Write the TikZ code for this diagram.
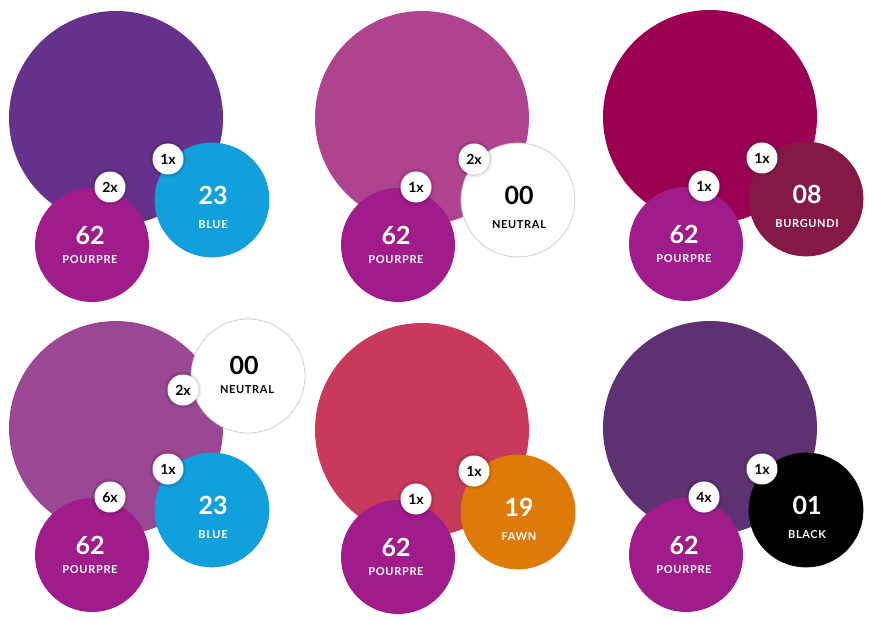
\documentclass[tikz,border=0pt]{standalone}
\usepackage{fontspec}
\setmainfont{Lato}
\definecolor{big1}{RGB}{101,49,139}
\definecolor{big2}{RGB}{176,67,143}
\definecolor{big3}{RGB}{155,0,82}
\definecolor{big4}{RGB}{155,72,148}
\definecolor{big5}{RGB}{200,58,92}
\definecolor{big6}{RGB}{94,50,114}
\definecolor{pourpre}{RGB}{160,28,138}
\definecolor{rblue}{RGB}{18,160,220}
\colorlet{rblueedge}{rblue}
\colorlet{rbluetxt}{white}
\colorlet{rneutral}{white}
\definecolor{rneutraledge}{RGB}{205,205,205}
\colorlet{rneutraltxt}{black}
\definecolor{rburg}{RGB}{133,25,70}
\colorlet{rburgedge}{rburg}
\colorlet{rburgtxt}{white}
\definecolor{rfawn}{RGB}{222,122,10}
\colorlet{rfawnedge}{rfawn}
\colorlet{rfawntxt}{white}
\colorlet{rblack}{black}
\colorlet{rblackedge}{black}
\colorlet{rblacktxt}{white}
\tikzset{
  bigdot/.style={circle, inner sep=0pt, minimum size=214pt},
  dot/.style={circle, inner sep=0pt, minimum size=114pt, line width=0.8pt},
  badge/.style={circle, fill=white, inner sep=0pt, minimum size=31pt,
    font=\fontsize{14}{14}\selectfont\bfseries, text=black},
  num/.style={inner sep=0pt, font=\fontsize{25}{25}\selectfont\bfseries},
  captext/.style={inner sep=0pt, font=\fontsize{11}{12}\selectfont\bfseries\addfontfeatures{LetterSpace=6}},
  shade ring/.style={fill=black, opacity=0.07},
}
\newcommand\shadowat[1]{%
  \fill[shade ring] (#1) circle (18.5);
  \fill[shade ring] (#1) circle (17);}
% #1 id, #2 centre, #3 big colour, #4 pourpre badge, #5 right colour key,
% #6 number, #7 label, #8 right badge
\newcommand\cpanel[8]{%
  \begin{scope}[shift={(#2)}]
    \node[bigdot, fill=#3] (#1big) at (0,0) {};
    \node[dot, fill=pourpre] (#1p) at (-24,127) {};
    \node[num, text=white] (#1pn) at (-26,117) {62};
    \node[captext, text=white] (#1pc) at (-26,142) {POURPRE};
    \node[dot, fill=#5, draw=#5edge] (#1r) at (96,82) {};
    \node[num, text=#5txt] (#1rn) at (97,77) {#6};
    \node[captext, text=#5txt] (#1rc) at (97,107) {#7};
    \shadowat{-6,69}
    \node[badge] (#1pb) at (-6,69) {#4};
    \shadowat{52,41}
    \node[badge] (#1rb) at (52,41) {#8};
  \end{scope}}
\begin{document}
\begin{tikzpicture}[x=1pt, y=-1pt]
  \fill[white] (0,0) rectangle (872,620);
  \useasboundingbox (0,0) rectangle (872,620);
  \cpanel{a}{116,118}{big1}{2x}{rblue}{23}{BLUE}{1x}
  \cpanel{b}{422,118}{big2}{1x}{rneutral}{00}{NEUTRAL}{2x}
  \cpanel{c}{710,117}{big3}{1x}{rburg}{08}{BURGUNDI}{1x}
  \cpanel{d}{116,428}{big4}{6x}{rblue}{23}{BLUE}{1x}
  \begin{scope}[shift={(116,428)}]
    \node[dot, fill=rneutral, draw=rneutraledge] (dn) at (132,-52) {};
    \node[num, text=black] (dnn) at (128,-63) {00};
    \node[captext, text=black] (dnc) at (131,-38) {NEUTRAL};
    \shadowat{67,-38}
    \node[badge] (dnb) at (67,-38) {2x};
  \end{scope}
  \cpanel{e}{422,430}{big5}{1x}{rfawn}{19}{FAWN}{1x}
  \cpanel{f}{710,428}{big6}{4x}{rblack}{01}{BLACK}{1x}
\end{tikzpicture}
\end{document}
